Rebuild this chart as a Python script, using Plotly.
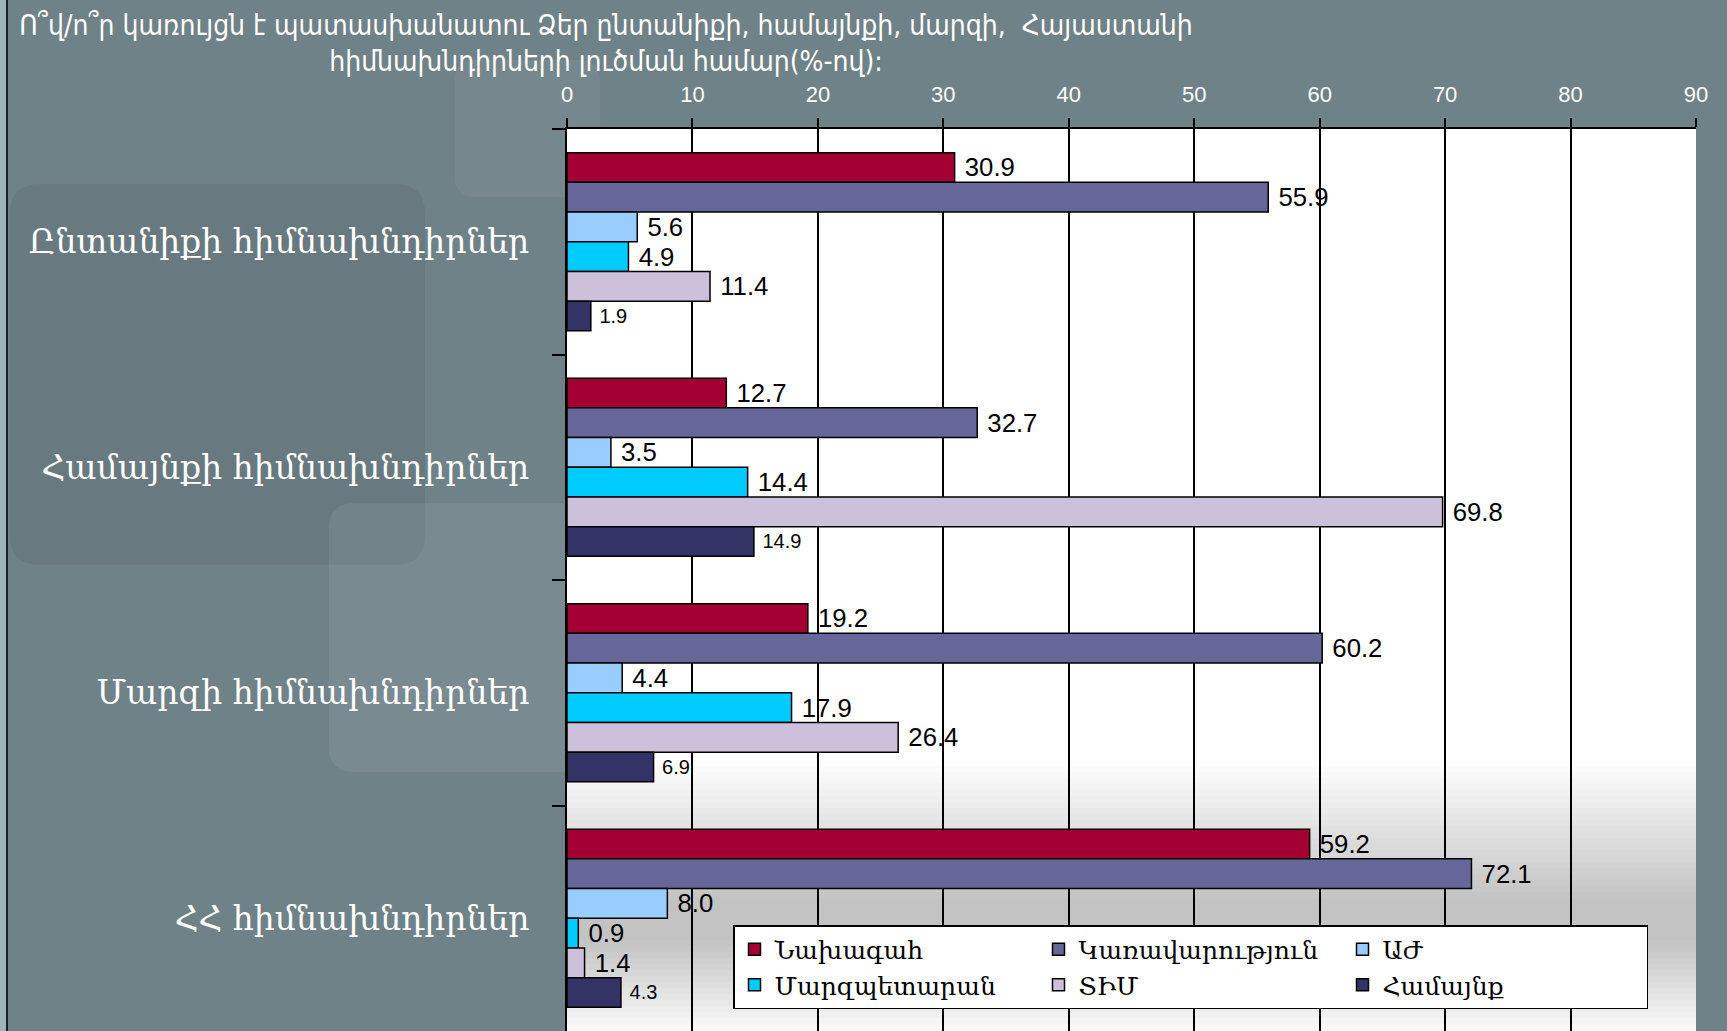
import plotly.graph_objects as go

categories = ["Ընտանիքի հիմնախնդիրներ", "Համայնքի հիմնախնդիրներ",
              "Մարզի հիմնախնդիրներ", "ՀՀ հիմնախնդիրներ"]
series_names = ["Նախագահ", "Կառավարություն", "ԱԺ", "Մարզպետարան", "ՏԻՄ", "Համայնք"]
nakhagah = [30.9, 12.7, 19.2, 59.2]
karavarutyun = [55.9, 32.7, 60.2, 72.1]
azh = [5.6, 3.5, 4.4, 8.0]
marzpetaran = [4.9, 14.4, 17.9, 0.9]
tim = [11.4, 69.8, 26.4, 1.4]
hamaynq = [1.9, 14.9, 6.9, 4.3]
x_ticks = [0, 10, 20, 30, 40, 50, 60, 70, 80, 90]

series_values = [nakhagah, karavarutyun, azh, marzpetaran, tim, hamaynq]
colors = ["#A50034", "#666699", "#99CCFF", "#00CCFF", "#CCC0DA", "#333366"]
label_sizes = [26, 26, 26, 26, 26, 20]

W, H = 1727, 1031
L, R, T, B = 567, 31, 129, 0
PW, PH = W - L - R, H - T - B

def px_x(x):  # paper fraction from full-pixel x
    return (x - L) / PW

def px_y(y):  # paper fraction from full-pixel y
    return 1 - (y - T) / PH

fig = go.Figure()
for name, vals, col, ls in zip(series_names, series_values, colors, label_sizes):
    fig.add_trace(go.Bar(
        y=categories, x=vals, name=name, orientation="h",
        marker=dict(color=col, line=dict(color="black", width=1.5)),
        text=vals, texttemplate="\u00a0%{x:.1f}", textposition="outside",
        textfont=dict(family="Liberation Sans, Arial", size=ls, color="black"),
        cliponaxis=False,
    ))

shapes = []
# background decoration (style only)
def rrect(x0, y0, x1, y1, r, fill):
    X0, X1 = px_x(x0), px_x(x1)
    Y0, Y1 = px_y(y1), px_y(y0)
    rx, ry = r / PW, r / PH
    path = (f"M {X0+rx},{Y1} L {X1-rx},{Y1} Q {X1},{Y1} {X1},{Y1-ry} "
            f"L {X1},{Y0+ry} Q {X1},{Y0} {X1-rx},{Y0} L {X0+rx},{Y0} "
            f"Q {X0},{Y0} {X0},{Y0+ry} L {X0},{Y1-ry} Q {X0},{Y1} {X0+rx},{Y1} Z")
    return dict(type="path", xref="paper", yref="paper", path=path,
                fillcolor=fill, line=dict(width=0), layer="below")

shapes.append(rrect(10, 184, 425, 565, 30, "rgba(0,0,0,0.06)"))
shapes.append(rrect(329, 503, 600, 772, 25, "rgba(255,255,255,0.07)"))
shapes.append(rrect(455, 60, 600, 197, 20, "rgba(255,255,255,0.05)"))
# plot-area bottom shading (style only)
def grey_at(y):
    if y < 760:
        return 255
    if y < 900:
        return 255 - (y - 760) / 140 * 60
    if y < 940:
        return 195
    return 195 + (y - 940) / 91 * 55
y0 = 760
step = 6
while y0 < H:
    g = int(round(grey_at(y0 + step / 2)))
    shapes.append(dict(type="rect", xref="x domain", yref="paper",
                       x0=0, x1=1, y0=px_y(y0 + step) - 0.001, y1=px_y(y0),
                       fillcolor=f"rgb({g},{g},{g})", line=dict(width=0), layer="below"))
    y0 += step
# left frame
shapes.append(dict(type="rect", xref="paper", yref="paper", x0=px_x(0), x1=px_x(6),
                   y0=px_y(H + 2), y1=px_y(-2), fillcolor="#9fb3ba", line=dict(width=0)))
shapes.append(dict(type="line", xref="paper", yref="paper", x0=px_x(7), x1=px_x(7),
                   y0=px_y(H + 2), y1=px_y(0), line=dict(color="#1a2428", width=2)))

fig.update_layout(
    width=W, height=H,
    margin=dict(l=L, r=R, t=T, b=B, pad=0),
    paper_bgcolor="#6f8288",
    plot_bgcolor="white",
    barmode="group",
    bargap=0.21,
    bargroupgap=0,
    shapes=shapes,
    title=dict(
        text="Ո՞վ/ո՞ր կառույցն է պատասխանատու Ձեր ընտանիքի, համայնքի, մարզի,  Հայաստանի<br>հիմնախնդիրների լուծման համար(%-ով):",
        xref="container", yref="container", x=606/W, xanchor="center",
        y=1 - 35/H, yanchor="middle",
        font=dict(family="DejaVu Sans Condensed, DejaVu Sans", size=28, color="white"),
    ),
    xaxis=dict(
        side="top", range=[0, 90], tickvals=x_ticks,
        showgrid=True, gridcolor="black", gridwidth=1.5,
        showline=True, linecolor="black", linewidth=2,
        ticks="outside", ticklen=9, tickcolor="black", tickwidth=1.5,
        ticklabelstandoff=7,
        tickfont=dict(family="Liberation Sans, Arial", size=22, color="white"),
        zeroline=False,
    ),
    yaxis=dict(
        autorange="reversed", categoryorder="array", categoryarray=categories,
        showline=True, linecolor="black", linewidth=2,
        ticks="outside", ticklen=13, tickcolor="black", tickwidth=1.5,
        tickson="boundaries", ticklabelstandoff=29,
        tickfont=dict(family="DejaVu Serif", size=33, color="white"),
        showgrid=False,
    ),
    legend=dict(
        orientation="h", xref="paper", yref="paper",
        x=px_x(733), y=px_y(925), xanchor="left", yanchor="top",
        bgcolor="white", bordercolor="black", borderwidth=1.5,
        entrywidth=259, entrywidthmode="pixels",
        font=dict(family="DejaVu Serif", size=25, color="black"),
        traceorder="normal",
    ),
    showlegend=True,
)

fig.write_html("out.html", config={"displayModeBar": False},
               post_script="document.body.style.margin='0';document.body.style.overflow='hidden';")
